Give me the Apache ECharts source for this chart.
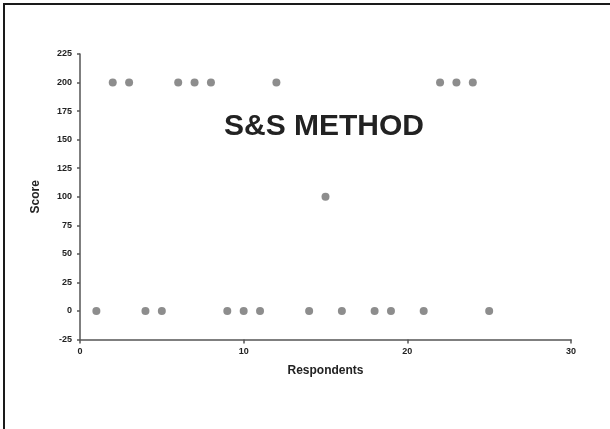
<!DOCTYPE html>
<html>
<head>
<meta charset="utf-8">
<script src="https://cdn.jsdelivr.net/npm/echarts@6/dist/echarts.min.js"></script>
<style>
  html, body { margin: 0; padding: 0; background: #fff; }
  #main { width: 610px; height: 429px; }
</style>
</head>
<body>
<div id="main"></div>
<script>
// respondent numbers and their scores (13, 17, 20 have no point)
const respondents = [1, 2, 3, 4, 5, 6, 7, 8, 9, 10, 11, 12, 14, 15, 16, 18, 19, 21, 22, 23, 24, 25]
const scores = [0, 200, 200, 0, 0, 200, 200, 200, 0, 0, 0, 200, 0, 100, 0, 0, 0, 0, 200, 200, 200, 0]

const points = respondents.map((r, i) => [r, scores[i]])

const tickFont = {
  fontFamily: 'Liberation Sans, Arial, sans-serif',
  fontWeight: 'bold',
  fontSize: 9,
  color: '#222'
}

const axisLine = { show: true, onZero: false, lineStyle: { color: '#555', width: 1.5 } }

const option = {
  backgroundColor: '#fff',
  animation: false,
  title: {
    text: 'S&S METHOD',
    left: 319,
    top: 107,
    textAlign: 'center',
    textStyle: {
      fontFamily: 'Liberation Sans, Arial, sans-serif',
      fontWeight: 'bold',
      fontSize: 30,
      color: '#222'
    }
  },
  graphic: [{
    type: 'rect',
    shape: { x: 4, y: 4, width: 640, height: 460 },
    style: { fill: 'none', stroke: '#1a1a1a', lineWidth: 2 },
    silent: true
  }],
  grid: { left: 80, right: 39, top: 54, height: 285.5 },
  xAxis: {
    type: 'value',
    min: 0,
    max: 30,
    interval: 10,
    name: 'Respondents',
    nameLocation: 'middle',
    nameGap: 25,
    nameTextStyle: {
      fontFamily: 'Liberation Sans, Arial, sans-serif',
      fontWeight: 'bold',
      fontSize: 12,
      color: '#222'
    },
    axisLine: axisLine,
    axisTick: { show: true, length: 4, lineStyle: { color: '#555', width: 1.5 } },
    axisLabel: Object.assign({ margin: 8 }, tickFont),
    splitLine: { show: false }
  },
  yAxis: {
    type: 'value',
    min: -25,
    max: 225,
    interval: 25,
    name: 'Score',
    nameLocation: 'middle',
    nameGap: 38,
    nameTextStyle: {
      fontFamily: 'Liberation Sans, Arial, sans-serif',
      fontWeight: 'bold',
      fontSize: 12,
      color: '#222'
    },
    axisLine: axisLine,
    axisTick: { show: true, length: 3, lineStyle: { color: '#555', width: 1.5 } },
    axisLabel: Object.assign({ margin: 8 }, tickFont),
    splitLine: { show: false }
  },
  series: [{
    type: 'scatter',
    data: points,
    symbol: 'circle',
    symbolSize: 8,
    itemStyle: { color: '#707070' }
  }]
}

const chart = echarts.init(document.getElementById('main'))
chart.setOption(option)
</script>
</body>
</html>
